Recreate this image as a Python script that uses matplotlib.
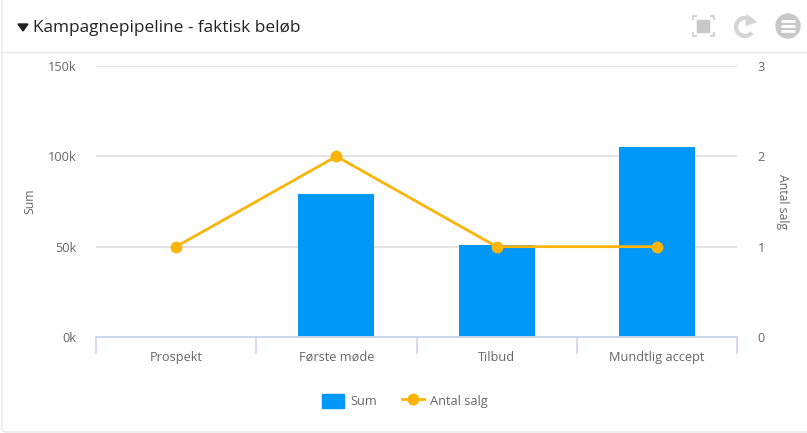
import matplotlib
matplotlib.use('Agg')
import matplotlib.pyplot as plt
from matplotlib.patches import Rectangle, Circle, Polygon, Arc, FancyBboxPatch
from matplotlib.lines import Line2D

# Data
stages = ['Prospekt', 'Første møde', 'Tilbud', 'Mundtlig accept']
sums = [0, 79000, 51000, 105000]
sales = [1, 2, 1, 1]
sum_ticks = [0, 50000, 100000, 150000]
sum_labels = ['0k', '50k', '100k', '150k']
sales_ticks = [0, 1, 2, 3]

W, H = 807, 433
TEXT = '#666666'
GRID = '#dedede'
AXIS = '#ccd6eb'
BLUE = '#0098f7'
ORANGE = '#fbb40a'

plt.rcParams['font.family'] = ['Open Sans', 'DejaVu Sans']

fig = plt.figure(figsize=(W / 100, H / 100), dpi=100)

# Pixel coordinate layer for the card, header and icons
bg = fig.add_axes([0, 0, 1, 1])
bg.set_xlim(0, W)
bg.set_ylim(H, 0)
bg.axis('off')
bg.add_patch(FancyBboxPatch((2, -10), W + 20, H + 9, boxstyle='round,pad=0,rounding_size=4',
                            fc='white', ec='#e8e8e8', lw=1))
bg.plot([2, W], [52, 52], color='#e8e8e8', lw=1)
bg.add_patch(Polygon([(18, 24), (28, 24), (23, 31)], color='#222222'))
bg.text(33, 28, 'Kampagnepipeline - faktisk beløb', fontsize=12.4, color='#222222',
        va='center', ha='left')

# Fullscreen icon
icon = '#d4d4d4'
bg.add_patch(Rectangle((697, 20), 12, 12, color='#c8c8c8'))
for cx, cy, dx, dy in [(693, 16, 1, 1), (714, 16, -1, 1), (693, 36, 1, -1), (714, 36, -1, -1)]:
    bg.plot([cx + 4 * dx, cx, cx], [cy, cy, cy + 4 * dy], color=icon, lw=1.6, solid_capstyle='butt')
# Refresh icon
bg.add_patch(Arc((745, 27), 18, 18, theta1=40, theta2=320, color=icon, lw=3))
bg.add_patch(Polygon([(747, 15), (756, 22), (746, 25)], color=icon))
# Menu icon
bg.add_patch(Circle((788, 26), 12, color='#c8c8c8'))
for y in [21, 26, 31]:
    bg.plot([782, 794], [y, y], color='white', lw=2, solid_capstyle='round')

# Chart axes, x 96-737 px and y 66-337 px
left, right, top, bottom = 96, 737, 66, 337
ax = fig.add_axes([left / W, 1 - bottom / H, (right - left) / W, (bottom - top) / H])
ax.patch.set_alpha(0)
x = list(range(len(stages)))
ax.bar(x, sums, width=0.475, color=BLUE, zorder=3)
ax.set_xlim(-0.5, 3.5)
ax.set_ylim(0, 150000)
ax.set_yticks(sum_ticks)
ax.set_yticklabels(sum_labels)
ax.set_xticks(x)
ax.set_xticklabels(stages)
ax.set_xticks([-0.5, 0.5, 1.5, 2.5, 3.5], minor=True)
ax.tick_params(axis='x', which='major', length=0, pad=10, labelsize=9.2, labelcolor=TEXT)
ax.tick_params(axis='x', which='minor', length=12, width=1.2, color=AXIS)
ax.tick_params(axis='y', length=0, pad=14, labelsize=9.2, labelcolor=TEXT)
ax.grid(axis='y', color=GRID, lw=1.2, zorder=0)
ax.set_axisbelow(True)
for s in ['top', 'left', 'right']:
    ax.spines[s].set_visible(False)
ax.spines['bottom'].set_color(AXIS)
ax.spines['bottom'].set_linewidth(1.4)
ax.spines['bottom'].set_zorder(5)
ax.set_ylabel('Sum', fontsize=8.8, color=TEXT, labelpad=8)

ax2 = ax.twinx()
ax2.plot(x, sales, color=ORANGE, lw=2, marker='o', ms=7.5, zorder=5, clip_on=False)
ax2.set_ylim(0, 3)
ax2.set_yticks(sales_ticks)
ax2.tick_params(axis='y', length=0, pad=15, labelsize=9.2, labelcolor=TEXT)
for s in ax2.spines.values():
    s.set_visible(False)
ax2.set_ylabel('Antal salg', fontsize=8.8, color=TEXT, rotation=270, labelpad=17)

# Legend
handles = [Rectangle((0, 0), 1, 1, color=BLUE),
           Line2D([], [], color=ORANGE, lw=2, marker='o', ms=7.5)]
bg.legend(handles, ['Sum', 'Antal salg'], loc='center', bbox_to_anchor=(405 / W, 1 - 401 / H),
          bbox_transform=fig.transFigure, frameon=False, ncol=2, fontsize=9.2, labelcolor=TEXT,
          handlelength=1.7, handleheight=1.4, columnspacing=2.0, handletextpad=0.45)

fig.savefig('out.png', dpi=100)
